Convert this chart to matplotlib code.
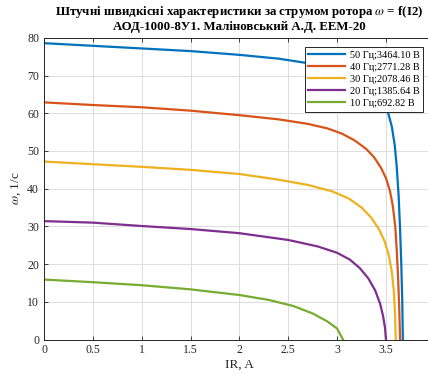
import numpy as np
import matplotlib
matplotlib.use("Agg")
import matplotlib.pyplot as plt

# значення (I2 в А, ω в 1/с)
i_50 = [0, 0.5, 1.0, 1.5, 2.0, 2.4, 2.7, 2.95, 3.15, 3.3, 3.4, 3.47, 3.52,
        3.56, 3.59, 3.61, 3.63, 3.645, 3.657, 3.667, 3.673]
w_50 = [78.6, 77.9, 77.2, 76.5, 75.5, 74.5, 73.3, 72.0, 70.4, 68.3, 66.0, 63.3, 60.3,
        56.5, 51.5, 46.0, 38.0, 29.0, 20.0, 10.0, 0]

i_40 = [0, 0.5, 1.0, 1.5, 2.0, 2.4, 2.7, 2.9, 3.05, 3.18, 3.3, 3.38, 3.45, 3.5,
        3.54, 3.57, 3.595, 3.61, 3.625, 3.635, 3.645]
w_40 = [62.9, 62.2, 61.6, 60.7, 59.5, 58.4, 57.2, 56.0, 54.6, 52.8, 50.5, 48.3, 45.5, 42.8,
        39.5, 35.5, 30.0, 24.0, 16.0, 9.0, 0]

i_30 = [0, 0.5, 1.0, 1.5, 2.0, 2.4, 2.7, 2.95, 3.12, 3.25, 3.35, 3.43, 3.49, 3.53,
        3.56, 3.58, 3.593, 3.60]
w_30 = [47.2, 46.5, 45.8, 45.0, 43.9, 42.4, 41.0, 39.3, 37.4, 35.0, 32.3, 29.2, 25.8, 22.3,
        18.0, 13.0, 7.0, 0]

i_20 = [0, 0.5, 1.0, 1.5, 2.0, 2.5, 2.8, 3.0, 3.13, 3.23, 3.32, 3.39, 3.44, 3.47, 3.49, 3.50]
w_20 = [31.4, 31.0, 30.1, 29.3, 28.2, 26.4, 24.7, 23.0, 21.2, 19.0, 16.2, 13.0, 9.5, 6.3, 3.2, 0]

i_10 = [0, 0.5, 1.0, 1.5, 2.0, 2.3, 2.55, 2.75, 2.9, 3.0, 3.06]
w_10 = [15.9, 15.2, 14.4, 13.3, 11.8, 10.5, 8.9, 6.9, 4.8, 2.9, 0]

labels = ["50 Гц;3464.10 В", "40 Гц;2771.28 В", "30 Гц;2078.46 В",
          "20 Гц;1385.64 В", "10 Гц;692.82 В"]
colors = ["#0072BD", "#D95319", "#EDB120", "#7E2F8E", "#77AC30"]

xticks = [0, 0.5, 1, 1.5, 2, 2.5, 3, 3.5]
xtick_labels = ["0", "0.5", "1", "1.5", "2", "2.5", "3", "3.5"]
yticks = [0, 10, 20, 30, 40, 50, 60, 70, 80]

plt.rcParams["font.family"] = ["Liberation Serif", "DejaVu Serif"]
plt.rcParams["mathtext.fontset"] = "stix"

W, H = 428, 379
fig = plt.figure(figsize=(W / 100, H / 100), dpi=100)
ax = fig.add_axes([44 / W, 39.5 / H, 390.8 / W, 301.6 / H])

curves = [(i_50, w_50), (i_40, w_40), (i_30, w_30), (i_20, w_20), (i_10, w_10)]
for (ii, ww), lab, col in zip(curves, labels, colors):
    ax.plot(ii, ww, color=col, lw=1.6, label=lab, solid_joinstyle="round")

ax.set_xlim(0, 4)
ax.set_ylim(0, 80)
ax.set_xticks(xticks)
ax.set_xticklabels(xtick_labels)
ax.set_yticks(yticks)
ax.grid(True, color="#dcdcdc", lw=0.7)
ax.set_axisbelow(True)
ax.tick_params(direction="in", length=3, width=0.6, labelsize=8.5,
               colors="#262626", top=True, right=False)
for s in ["left", "bottom", "top"]:
    ax.spines[s].set_color("#262626")
    ax.spines[s].set_linewidth(0.7)
ax.spines["right"].set_visible(False)

ax.set_xlabel("IR, A", fontsize=9.5, color="#262626", labelpad=2)
ax.set_ylabel(r"$\omega$, 1/c", fontsize=9.5, color="#262626", labelpad=3)

fig.text(239 / W, 1 - 12 / H,
         r"Штучні швидкісні характеристики за струмом ротора $\omega$ = f(I2)",
         ha="center", va="center", fontsize=9.3, fontweight="bold")
fig.text(239 / W, 1 - 27 / H, "АОД-1000-8У1. Маліновський А.Д. ЕЕМ-20",
         ha="center", va="center", fontsize=9.3, fontweight="bold")

leg = ax.legend(loc="upper right", bbox_to_anchor=(423 / W, 1 - 47 / H),
                bbox_transform=fig.transFigure, borderaxespad=0,
                fontsize=7.4, handlelength=3.6, handletextpad=0.4,
                labelspacing=0.28, borderpad=0.35, fancybox=False,
                framealpha=1, edgecolor="#262626")
leg.get_frame().set_linewidth(0.7)

fig.savefig("out.png", dpi=100)
